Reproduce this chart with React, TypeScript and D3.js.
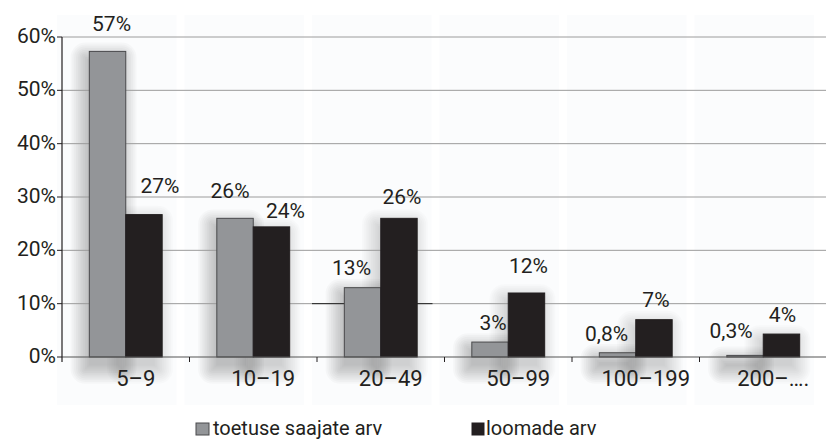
import React from "react";
import * as d3 from "d3";

const categories = ["5–9", "10–19", "20–49", "50–99", "100–199", "200–…."];
const seriesNames = ["toetuse saajate arv", "loomade arv"];
const grayValues = [57.3, 26.0, 13.0, 2.8, 0.8, 0.3];
const blackValues = [26.7, 24.4, 26.0, 12.0, 7.0, 4.3];
const grayLabels = ["57%", "26%", "13%", "3%", "0,8%", "0,3%"];
const blackLabels = ["27%", "24%", "26%", "12%", "7%", "4%"];
const yTicks = [0, 10, 20, 30, 40, 50, 60];

// label placement nudges (dx from bar centre, gap above bar top)
const grayNudge = [[4, 20], [-5, 20], [-11, 13], [3, 12], [-11, 12], [-14, 17]];
const blackNudge = [[16, 22], [14, 9], [3, 14], [2, 20], [2, 13], [1, 12]];

const W = 826;
const H = 440;
const FONT = "Roboto, 'Liberation Sans', Arial, sans-serif";
const SHADOW_STEPS = d3.range(1, 12);

export default function App() {
  const x = d3.scaleBand<string>().domain(categories).range([62, 827]).paddingInner(0).paddingOuter(0);
  const inner = d3.scaleBand<string>().domain(seriesNames).range([0, x.bandwidth()]).paddingInner(0).paddingOuter(0.75);
  const y = d3.scaleLinear().domain([0, 60]).range([357, 37]);
  const bw = inner.bandwidth();
  const colors = ["#939598", "#231f20"];
  const strokes = ["#4a4a4c", "#231f20"];
  const series = [grayValues, blackValues];
  const labels = [grayLabels, blackLabels];
  const nudges = [grayNudge, blackNudge];

  return (
    <svg width={W} height={H} style={{ position: "absolute", left: 0, top: 0, background: "#fff" }} fontFamily={FONT}>
      {/* faint group backgrounds */}
      {categories.map((c) => (
        <rect key={"bg" + c} x={(x(c) as number) - 5} y={15} width={x.bandwidth() - 8} height={390} fill="#fbfcfd" />
      ))}
      {/* soft shadows behind bars */}
      {categories.map((c, i) =>
        series.map((vals, s) => {
          const bx = (x(c) as number) + (inner(seriesNames[s]) as number) - 4;
          const by = y(vals[i]) + 6;
          const h = y(0) - y(vals[i]) + 6;
          return SHADOW_STEPS.map((k) => {
            const e = k * 1.8 - 5;
            return (
              <rect
                key={"sh" + c + s + k}
                x={bx - e}
                y={by - e}
                width={Math.max(0, bw + 2 * e)}
                height={Math.max(0, h + 2 * e)}
                rx={Math.max(0, e)}
                fill="#000"
                opacity={s === 0 ? 0.024 : 0.016}
              />
            );
          });
        })
      )}
      {/* gridlines */}
      {yTicks.filter((t) => t > 0).map((t) => (
        <line key={"g" + t} x1={62} x2={826} y1={y(t)} y2={y(t)} stroke="#9c9c9c" strokeWidth={1} />
      ))}
      {/* dark segment on the 10% line */}
      <line x1={(x(categories[2]) as number) - 5} x2={(x(categories[2]) as number) + x.bandwidth() - 12} y1={y(10)} y2={y(10)} stroke="#222" strokeWidth={1} />
      {/* bars */}
      {categories.map((c, i) => (
        <g key={"grp" + c}>
          {series.map((vals, s) => {
            const bx = (x(c) as number) + (inner(seriesNames[s]) as number);
            return (
              <rect
                key={s}
                x={bx}
                y={y(vals[i])}
                width={bw}
                height={y(0) - y(vals[i])}
                fill={colors[s]}
                stroke={strokes[s]}
                strokeWidth={1}
              />
            );
          })}
        </g>
      ))}
      {/* value labels */}
      {categories.map((c, i) =>
        series.map((vals, s) => {
          const cx = (x(c) as number) + (inner(seriesNames[s]) as number) + bw / 2 + nudges[s][i][0];
          return (
            <text key={"l" + c + s} x={cx} y={y(vals[i]) - nudges[s][i][1]} textAnchor="middle" fontSize={21} fill="#231f20">
              {labels[s][i]}
            </text>
          );
        })
      )}
      {/* baseline */}
      <line x1={62} x2={826} y1={y(0)} y2={y(0)} stroke="#555" strokeWidth={1.2} />
      {/* y axis */}
      <line x1={62} x2={62} y1={y(60)} y2={y(0) + 5} stroke="#231f20" strokeWidth={1.2} />
      {yTicks.map((t) => (
        <g key={"yt" + t}>
          <line x1={57} x2={62} y1={y(t)} y2={y(t)} stroke="#231f20" strokeWidth={1} />
          <text x={56} y={y(t) + 6} textAnchor="end" fontSize={21} fill="#231f20">
            {t + "%"}
          </text>
        </g>
      ))}
      {/* x ticks */}
      {categories.map((c) => (
        <line key={"xt" + c} x1={(x(c) as number) + x.bandwidth()} x2={(x(c) as number) + x.bandwidth()} y1={y(0)} y2={y(0) + 5} stroke="#231f20" strokeWidth={1} />
      ))}
      {categories.map((c) => (
        <text key={"xl" + c} x={(x(c) as number) + x.bandwidth() / 2 + 10} y={386} textAnchor="middle" fontSize={22} fill="#231f20">
          {c}
        </text>
      ))}
      {/* legend */}
      <rect x={196} y={423} width={13} height={12} fill={colors[0]} stroke={strokes[0]} strokeWidth={1} />
      <text x={213} y={435} fontSize={20} fill="#231f20">{seriesNames[0]}</text>
      <rect x={472} y={423} width={12} height={12} fill={colors[1]} stroke={strokes[1]} strokeWidth={1} />
      <text x={486} y={435} fontSize={20} fill="#231f20">{seriesNames[1]}</text>
    </svg>
  );
}
